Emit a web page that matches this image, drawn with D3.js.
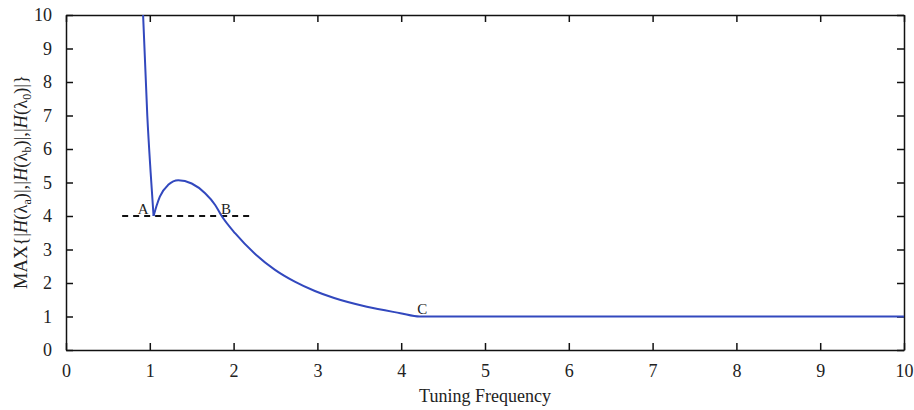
<!DOCTYPE html>
<html lang="en">
<head>
<meta charset="UTF-8">
<title>Tuning Frequency</title>
<script src="https://d3js.org/d3.v7.min.js"></script>
<style>
  body { margin: 0; background: #fff; }
  svg text { font-family: "Liberation Serif", "DejaVu Serif", serif; fill: #222; }
  .axis path, .axis line { stroke: #111; stroke-width: 1.5; }
  .axis text { font-size: 18px; }
</style>
</head>
<body>
<script>
// values
const freq = [0.92, 0.97, 1.01, 1.045, 1.08, 1.12, 1.22, 1.34, 1.5, 1.66, 1.78, 1.85, 2.02, 2.26, 2.49, 2.73, 2.97, 3.2, 3.59, 3.99, 4.22, 10];
const maxH = [10, 7.0, 5.3, 4.0, 4.3, 4.58, 4.93, 5.07, 4.97, 4.68, 4.33, 4.03, 3.48, 2.86, 2.4, 2.04, 1.76, 1.55, 1.29, 1.1, 1.0, 1.0];
const threshold = { x0: 0.67, x1: 2.2, y: 4 };
const points = [
  { label: "A", x: 0.92, y: 4.05 },
  { label: "B", x: 1.91, y: 4.05 },
  { label: "C", x: 4.25, y: 1.08 }
];
const xTicks = d3.range(0, 11);
const yTicks = d3.range(0, 11);

const width = 914, height = 410;
const margin = { top: 15, right: 10, bottom: 60, left: 66 };
const w = width - margin.left - margin.right;
const h = height - margin.top - margin.bottom;

const svg = d3.select("body").append("svg")
  .attr("width", width)
  .attr("height", height);

const g = svg.append("g")
  .attr("transform", `translate(${margin.left},${margin.top})`);

const x = d3.scaleLinear().domain([0, 10]).range([0, w]);
const y = d3.scaleLinear().domain([0, 10]).range([h, 0]);

const serif = '"Liberation Serif", "DejaVu Serif", serif';

// axes with inward ticks, box style
g.append("g").attr("class", "axis")
  .attr("transform", `translate(0,${h})`)
  .call(d3.axisBottom(x).tickValues(xTicks).tickSizeInner(-7).tickSizeOuter(0).tickPadding(14))
  .attr("font-family", serif)
  .call(a => a.selectAll("text").attr("dy", "0.71em"));

g.append("g").attr("class", "axis")
  .call(d3.axisLeft(y).tickValues(yTicks).tickSizeInner(-7).tickSizeOuter(0).tickPadding(14))
  .attr("font-family", serif);

g.append("g").attr("class", "axis")
  .call(d3.axisTop(x).tickValues(xTicks).tickSizeInner(-7).tickSizeOuter(0).tickFormat(""));

g.append("g").attr("class", "axis")
  .attr("transform", `translate(${w},0)`)
  .call(d3.axisRight(y).tickValues(yTicks).tickSizeInner(-7).tickSizeOuter(0).tickFormat(""));

// dashed threshold
g.append("line")
  .attr("x1", x(threshold.x0)).attr("x2", x(threshold.x1))
  .attr("y1", y(threshold.y)).attr("y2", y(threshold.y))
  .attr("stroke", "#111")
  .attr("stroke-width", 2)
  .attr("stroke-dasharray", "6,5");

// curve: sharp corner at A, smooth after it
const data = freq.map((f, i) => ({ f: f, v: maxH[i] }));
const iA = 3;
const line = d3.line().x(d => x(d.f)).y(d => y(d.v)).curve(d3.curveMonotoneX);

[data.slice(0, iA + 1), data.slice(iA)].forEach(seg => {
  g.append("path")
    .datum(seg)
    .attr("fill", "none")
    .attr("stroke", "rgb(50,72,190)")
    .attr("stroke-width", 2)
    .attr("d", line);
});

g.selectAll(".pt")
  .data(points)
  .enter().append("text")
  .attr("class", "pt")
  .attr("x", d => x(d.x))
  .attr("y", d => y(d.y))
  .attr("font-size", 15)
  .attr("text-anchor", "middle")
  .text(d => d.label);

// axis titles
svg.append("text")
  .attr("x", margin.left + w / 2)
  .attr("y", 402)
  .attr("text-anchor", "middle")
  .attr("font-size", 18)
  .text("Tuning Frequency");

const yl = svg.append("text")
  .attr("transform", "translate(27,182) rotate(-90)")
  .attr("text-anchor", "middle")
  .attr("font-size", 18.5);
const parts = [
  ["MAX{|", null], ["H", "i"], ["(λ", null], ["a", "s"], [")|,|", null], ["H", "i"], ["(λ", null], ["b", "s"],
  [")|,|", null], ["H", "i"], ["(λ", null], ["0", "s"], [")|}", null]
];
let sub = false;
parts.forEach(p => {
  const t = yl.append("tspan").text(p[0]);
  if (p[1] === "i") t.attr("font-style", "italic");
  if (p[1] === "s") { t.attr("font-size", 12).attr("dy", 4); sub = true; }
  else if (sub) { t.attr("dy", -4); sub = false; }
});
</script>
</body>
</html>
